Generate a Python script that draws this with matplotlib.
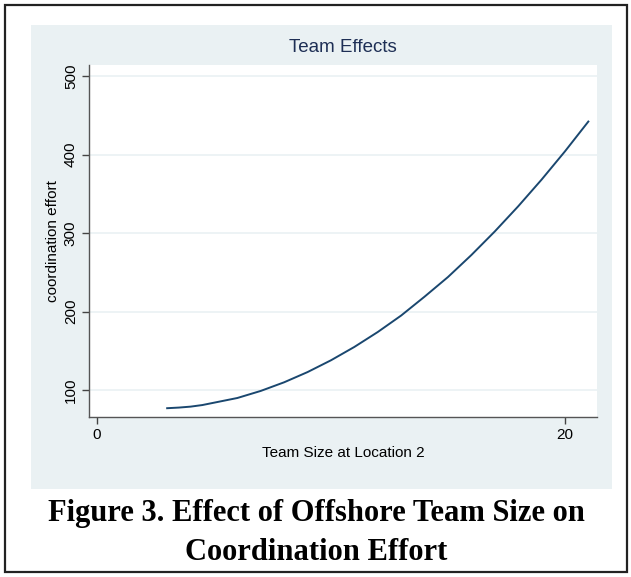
import matplotlib
matplotlib.use("Agg")
import matplotlib.pyplot as plt
from matplotlib.patches import Rectangle

# -------------------- DATA --------------------
team_size = [3, 3.5, 4, 4.5, 5, 6, 7, 8, 9, 10, 11, 12, 13, 14, 15, 16, 17, 18, 19, 20, 21]
coord_effort = [77, 77.8, 79, 81, 84, 90, 99, 110, 123, 138, 155, 174, 195, 219, 244,
                272, 302, 334, 368, 404, 442]
x_ticks = [0, 20]
y_ticks = [100, 200, 300, 400, 500]

W, H = 631, 577
fig = plt.figure(figsize=(W / 100, H / 100), dpi=100)
plt.rcParams['font.family'] = ['Liberation Sans', 'DejaVu Sans']

def fx(px):
    return px / W

def fy(py):
    return 1 - py / H

# outer frame and light panel behind the graph
fig.patches.append(Rectangle((fx(5), fy(572)), fx(622), 567 / H, transform=fig.transFigure,
                             fill=False, edgecolor='#222222', linewidth=1.6, zorder=-2))
fig.patches.append(Rectangle((fx(31), fy(489)), fx(581), 464 / H, transform=fig.transFigure,
                             facecolor='#EAF1F3', edgecolor='none', zorder=-1))

# -------------------- PLOT --------------------
ax = fig.add_axes([fx(89), fy(417), fx(508), 352 / H])
ax.set_facecolor('white')
ax.plot(team_size, coord_effort, color='#1A476F', linewidth=1.4)

ax.set_xlim(-0.34, 21.37)
ax.set_ylim(65.8, 514)
ax.set_xticks(x_ticks)
ax.set_yticks(y_ticks)
ax.set_yticklabels([str(v) for v in y_ticks], rotation=90, va='center')
ax.tick_params(direction='out', length=5, width=1, colors='#444444',
               labelcolor='black', labelsize=11, pad=3)
for v in y_ticks:
    ax.axhline(v, color='#EAF1F3', linewidth=1.2, zorder=0)

for s in ['top', 'right']:
    ax.spines[s].set_visible(False)
for s in ['left', 'bottom']:
    ax.spines[s].set_color('#555555')
    ax.spines[s].set_linewidth(1.0)

ax.set_xlabel("Team Size at Location 2", fontsize=11, labelpad=3)
ax.set_ylabel("coordination effort", fontsize=11, labelpad=3)

fig.text(fx(343), fy(47), "Team Effects", ha='center', va='center',
         fontsize=13.5, color='#1E2F55')

# caption
cap_font = dict(family='Liberation Serif', fontweight='bold', fontsize=22,
                ha='center', va='center', color='black')
fig.text(fx(316), fy(514), "Figure 3. Effect of Offshore Team Size on", **cap_font)
fig.text(fx(316), fy(553), "Coordination Effort", **cap_font)

fig.savefig("out.png", dpi=100)
